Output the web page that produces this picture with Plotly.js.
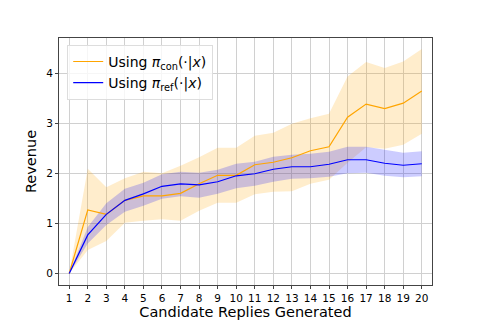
<!DOCTYPE html>
<html>
<head>
<meta charset="utf-8">
<script src="https://cdn.plot.ly/plotly-3.0.1.min.js"></script>
<style>body{margin:0;background:#fff}#plot{width:480px;height:320px}</style>
</head>
<body>
<div id="plot"></div>
<script>
var n = [1,2,3,4,5,6,7,8,9,10,11,12,13,14,15,16,17,18,19,20];

// revenue using pi_con
var conMean = [0,1.27,1.18,1.46,1.55,1.55,1.60,1.79,1.96,1.96,2.17,2.22,2.31,2.45,2.53,3.12,3.38,3.29,3.40,3.64];
var conHi   = [0,2.09,1.72,1.90,2.03,2.00,2.15,2.32,2.51,2.51,2.75,2.81,2.99,3.10,3.19,3.93,4.22,4.10,4.23,4.48];
var conLo   = [0,0.47,0.65,1.01,1.05,1.08,1.05,1.25,1.41,1.41,1.58,1.63,1.64,1.79,1.87,2.21,2.52,2.49,2.57,2.79];

// revenue using pi_ref
var refMean = [0,0.77,1.18,1.46,1.59,1.74,1.79,1.77,1.83,1.95,1.99,2.08,2.13,2.13,2.18,2.27,2.27,2.20,2.16,2.19];
var refHi   = [0,0.93,1.40,1.69,1.81,1.98,2.03,2.01,2.07,2.19,2.23,2.33,2.37,2.39,2.43,2.53,2.53,2.47,2.41,2.44];
var refLo   = [0,0.60,0.97,1.23,1.35,1.49,1.54,1.51,1.59,1.70,1.75,1.83,1.89,1.90,1.93,2.00,2.01,1.95,1.92,1.94];

var xTicks = n;
var yTicks = [0,1,2,3,4];

function band(lo, hi, col) {
  return [
    {x:n, y:lo, mode:"lines", line:{width:0}, showlegend:false, hoverinfo:"skip"},
    {x:n, y:hi, mode:"lines", line:{width:0}, fill:"tonexty", fillcolor:col, showlegend:false, hoverinfo:"skip"}
  ];
}

var traces = [].concat(
  band(conLo, conHi, "rgba(255,165,0,0.2)"),
  band(refLo, refHi, "rgba(0,0,255,0.2)"),
  [
    {x:n, y:conMean, mode:"lines", name:"Using <i>π</i><sub>con</sub>(·|<i>x</i>)", line:{color:"orange", width:1.2}},
    {x:n, y:refMean, mode:"lines", name:"Using <i>π</i><sub>ref</sub>(·|<i>x</i>)", line:{color:"blue", width:1.2}}
  ]
);

var layout = {
  width:480, height:320,
  margin:{l:59, r:48, t:38, b:35},
  paper_bgcolor:"#fff", plot_bgcolor:"#fff",
  font:{family:"DejaVu Sans", size:10.5, color:"#000"},
  xaxis:{
    range:[0.45,20.55], tickvals:xTicks, ticks:"outside", ticklen:3,
    showgrid:true, gridcolor:"#d0d0d0", zeroline:false,
    showline:true, mirror:true, linecolor:"#444", linewidth:1,
    title:{text:"Candidate Replies Generated", font:{size:14.5}, standoff:0}
  },
  yaxis:{
    range:[-0.23,4.7], tickvals:yTicks, ticks:"outside", ticklen:3,
    showgrid:true, gridcolor:"#d0d0d0", zeroline:false,
    showline:true, mirror:true, linecolor:"#444", linewidth:1,
    title:{text:"Revenue", font:{size:14.5}, standoff:6}
  },
  legend:{
    x:0.022, y:0.972, xanchor:"left", yanchor:"top", traceorder:"normal",
    bgcolor:"rgba(255,255,255,0.8)", bordercolor:"#ddd", borderwidth:1,
    font:{size:14}, tracegroupgap:0
  },
  showlegend:true
};

Plotly.newPlot("plot", traces, layout, {displayModeBar:false, staticPlot:true});
</script>
</body>
</html>
